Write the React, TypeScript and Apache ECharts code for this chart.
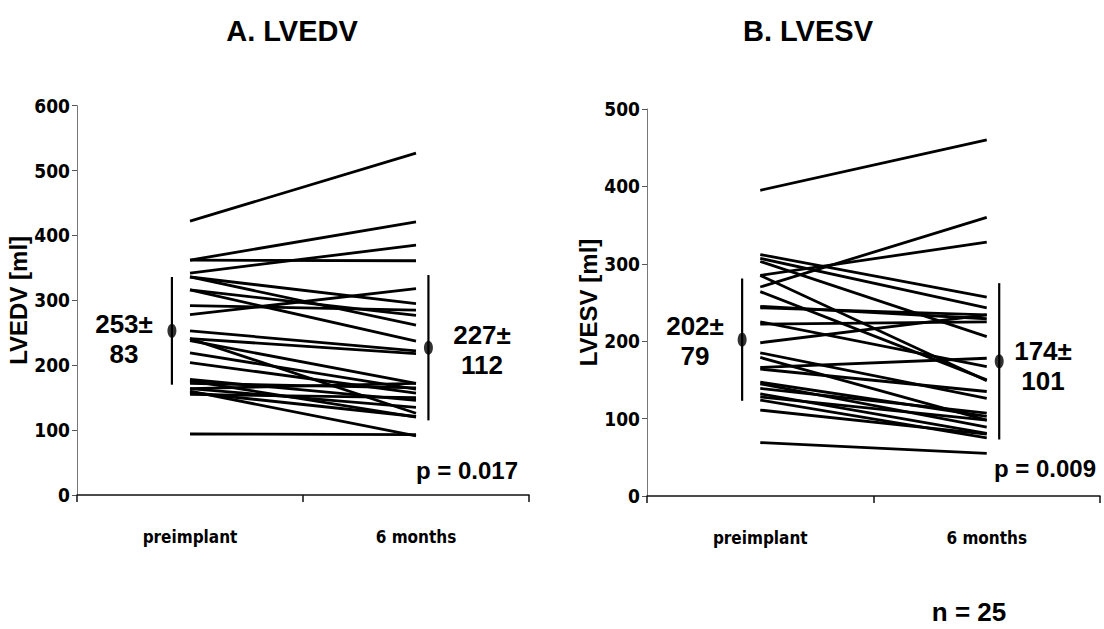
import React, { useEffect, useRef } from "react";
import * as echarts from "echarts";

const categories = ["preimplant", "6 months"];

// A. LVEDV (ml), one pair per patient
const lvedvPre = [422, 362, 362, 342, 336, 336, 316, 316, 292, 278, 253, 241, 241, 238, 219, 204, 178, 176, 172, 164, 164, 158, 155, 160, 94];
const lvedvPost = [527, 421, 361, 385, 295, 262, 277, 237, 285, 318, 222, 218, 126, 172, 163, 157, 146, 120, 165, 172, 135, 121, 150, 91, 93];

// B. LVESV (ml)
const lvesvPre = [395, 270, 285, 312, 307, 303, 285, 264, 245, 243, 225, 222, 198, 185, 179, 166, 164, 147, 145, 139, 132, 128, 124, 111, 69];
const lvesvPost = [460, 360, 328, 257, 243, 206, 149, 150, 229, 234, 167, 225, 234, 126, 98, 178, 135, 103, 89, 107, 81, 98, 75, 80, 55];

const lvedvMeans = [253, 227];
const lvedvSDs = [83, 112];
const lvesvMeans = [202, 174];
const lvesvSDs = [79, 101];

const lvedvTicks = [0, 100, 200, 300, 400, 500, 600];
const lvesvTicks = [0, 100, 200, 300, 400, 500];

// error-bar positions on a hidden 0..2 value axis (categories sit at 0.5 and 1.5)
const errX = [0.42, 1.555];

const NARROW = "'Liberation Sans Narrow', 'Arial Narrow', 'DejaVu Sans Condensed', sans-serif";
const BOLD = "'Liberation Sans', Arial, Helvetica, sans-serif";

function pairSeries(pre: number[], post: number[], xi: number, yi: number) {
  return pre.map((v, i) => ({
    type: "line",
    xAxisIndex: xi,
    yAxisIndex: yi,
    data: [v, post[i]],
    symbol: "none",
    silent: true,
    lineStyle: { color: "#000", width: 2.8 },
    z: 2,
  }));
}

function errSeries(means: number[], sds: number[], xi: number, yi: number) {
  const out: any[] = [];
  means.forEach((m, i) => {
    out.push({
      type: "line",
      xAxisIndex: xi,
      yAxisIndex: yi,
      data: [
        [errX[i], m - sds[i]],
        [errX[i], m + sds[i]],
      ],
      symbol: "none",
      silent: true,
      lineStyle: { color: "#000", width: 2.2 },
    });
  });
  out.push({
    type: "scatter",
    xAxisIndex: xi,
    yAxisIndex: yi,
    data: means.map((m, i) => [errX[i], m]),
    symbol: "circle",
    symbolSize: [9, 14],
    itemStyle: { color: "#000" },
    silent: true,
  });
  return out;
}

function catAxis(gi: number) {
  return {
    type: "category",
    gridIndex: gi,
    data: categories,
    boundaryGap: true,
    axisLine: { lineStyle: { color: "#111", width: 1.5 } },
    axisTick: { show: true, length: 7, lineStyle: { color: "#111", width: 1.5 } },
    axisLabel: { color: "#000", fontFamily: NARROW, fontWeight: "bold", fontSize: 17, margin: 33 },
    splitLine: { show: false },
  };
}

function valXAxis(gi: number) {
  return { type: "value", gridIndex: gi, min: 0, max: 2, show: false };
}

function yAxis(gi: number, ticks: number[], name: string) {
  return {
    type: "value",
    gridIndex: gi,
    min: ticks[0],
    max: ticks[ticks.length - 1],
    interval: ticks[1] - ticks[0],
    name,
    nameLocation: "middle",
    nameGap: 41,
    nameTextStyle: { color: "#000", fontFamily: BOLD, fontWeight: "bold", fontSize: 24 },
    axisLine: { show: true, lineStyle: { color: "#777", width: 1 } },
    axisTick: { show: true, length: 5, lineStyle: { color: "#555" } },
    axisLabel: { color: "#000", fontFamily: NARROW, fontWeight: "bold", fontSize: 19, margin: 7 },
    splitLine: { show: false },
  };
}

function txt(text: string, x: number, y: number, size: number, align = "center") {
  return {
    type: "text",
    x,
    y,
    silent: true,
    style: {
      text,
      fill: "#000",
      font: `bold ${size}px ${BOLD}`,
      align,
      verticalAlign: "middle",
      lineHeight: size + 4,
    },
  };
}

export default function App() {
  const ref = useRef<HTMLDivElement>(null);
  useEffect(() => {
    if (!ref.current) return;
    const chart = echarts.init(ref.current, null, { renderer: "svg" });
    const option: any = {
      animation: false,
      backgroundColor: "#fff",
      grid: [
        { left: 77, top: 105.7, width: 452, height: 389.3 },
        { left: 647, top: 109, width: 453, height: 387 },
      ],
      xAxis: [catAxis(0), valXAxis(0), catAxis(1), valXAxis(1)],
      yAxis: [yAxis(0, lvedvTicks, "LVEDV [ml]"), yAxis(1, lvesvTicks, "LVESV [ml]")],
      series: [
        ...pairSeries(lvedvPre, lvedvPost, 0, 0),
        ...errSeries(lvedvMeans, lvedvSDs, 1, 0),
        ...pairSeries(lvesvPre, lvesvPost, 2, 1),
        ...errSeries(lvesvMeans, lvesvSDs, 3, 1),
      ],
      graphic: [
        txt("A. LVEDV", 292, 31, 29),
        txt("B. LVESV", 808, 31, 29),
        txt(`${lvedvMeans[0]}±\n${lvedvSDs[0]}`, 124, 339, 26),
        txt(`${lvedvMeans[1]}±\n${lvedvSDs[1]}`, 482, 350, 26),
        txt(`${lvesvMeans[0]}±\n${lvesvSDs[0]}`, 695, 341, 26),
        txt(`${lvesvMeans[1]}±\n${lvesvSDs[1]}`, 1043, 366, 26),
        txt("p = 0.017", 467, 470, 24),
        txt("p = 0.009", 1045, 468, 24),
        txt("n = 25", 969, 612, 26),
      ],
    };
    chart.setOption(option);
    return () => chart.dispose();
  }, []);
  return (
    <div
      ref={ref}
      style={{ position: "fixed", left: 0, top: 0, width: 1104, height: 629, background: "#fff" }}
    />
  );
}
